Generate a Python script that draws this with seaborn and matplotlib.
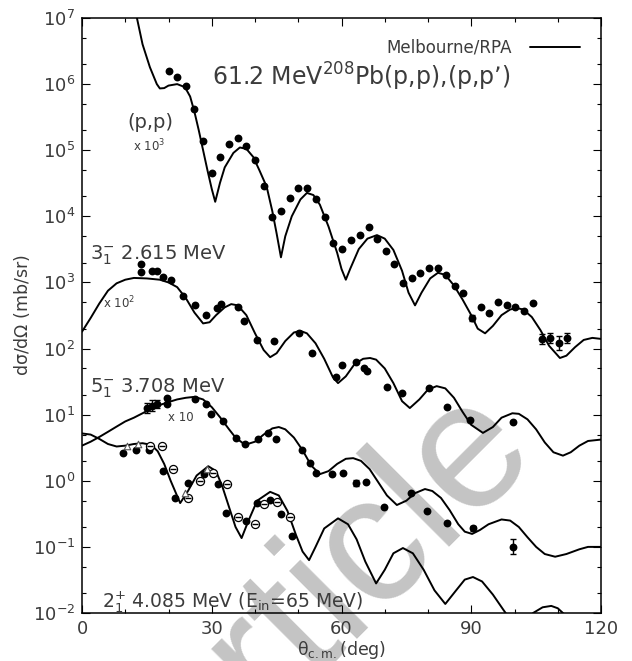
import matplotlib
matplotlib.use('Agg')
import matplotlib.pyplot as plt
import matplotlib.ticker as ticker
import numpy as np
import pandas as pd
import seaborn as sns

sns.set_theme(style='ticks')
plt.rcParams['font.family'] = ['DejaVu Sans']
plt.rcParams['mathtext.default'] = 'regular'

TXT = '#3c3c3c'

# ---- theory curves (Melbourne/RPA) ----
pp_x = [10, 12.7, 14, 15.7, 17.3, 18, 19, 20, 22, 23.8, 25, 26, 27, 28, 29, 30, 30.8,
        31.9, 33, 35, 36.5, 38, 39.6, 41, 42.7, 44, 45, 46, 47, 48.5, 50.5, 52, 53.5,
        55, 57, 59, 60, 61, 62, 64, 66, 68.2, 70, 72, 74, 75.5, 77, 78.5, 80.5, 82.3,
        84, 86, 88, 90, 91.5, 93.2, 95, 97, 99, 100.5, 102, 104, 106, 108, 110.5, 112,
        114, 116, 118, 120]
pp_y = [3e7, 1e7, 4e6, 1.8e6, 1.0e6, 8.6e5, 8.7e5, 9.5e5, 1.0e6, 9e5, 6.5e5, 3.8e5,
        2.0e5, 1.0e5, 5e4, 2.6e4, 1.66e4, 3.2e4, 5.5e4, 9.1e4, 1.1e5, 1.05e5, 7.9e4,
        5e4, 2.8e4, 1.2e4, 5.5e3, 2.4e3, 5e3, 1.0e4, 1.8e4, 2.26e4, 2.1e4, 1.5e4, 7e3,
        2.8e3, 1.6e3, 1.1e3, 1.6e3, 3.2e3, 4.6e3, 5.2e3, 4.6e3, 3.1e3, 1.5e3, 7e2,
        4.5e2, 7e2, 1.15e3, 1.4e3, 1.3e3, 9e2, 5.5e2, 3.2e2, 2e2, 1.7e2, 2.2e2, 3.2e2,
        3.9e2, 4.1e2, 3.9e2, 3e2, 1.9e2, 1.1e2, 72, 78, 1.05e2, 1.35e2, 1.45e2, 1.4e2]

t3_x = [0, 2, 4, 6, 8, 10, 12, 15, 18, 20, 22, 24, 26, 28, 29.5, 31, 33, 34.5, 36, 38,
        40, 42, 43.5, 45, 47, 49, 50.5, 52, 54, 56, 58, 59.2, 61, 63, 65, 66.6, 68, 70,
        72, 74, 75.8, 78, 80, 82, 84, 86, 88, 90, 92.7, 95, 97, 99.5, 101, 103, 105,
        107, 109, 111.2, 113, 115, 117, 120]
t3_y = [1.8e2, 2.9e2, 4.8e2, 7.5e2, 9.7e2, 1.1e3, 1.17e3, 1.15e3, 1.1e3, 1.0e3, 8.5e2,
        5.8e2, 3.5e2, 2.4e2, 2.5e2, 3.2e2, 4.2e2, 4.7e2, 4.5e2, 3.2e2, 1.7e2, 95, 74,
        85, 1.3e2, 1.75e2, 1.85e2, 1.7e2, 1.2e2, 70, 37, 30, 38, 58, 70, 72, 68, 50, 30,
        16, 12.6, 17, 24, 27, 25, 18, 11, 7, 5.3, 6.5, 9, 10.5, 10.3, 8.5, 6, 3.8, 2.7,
        2.4, 2.7, 3.4, 4, 4.2]

t5_x = [0, 2, 4, 6, 8, 10, 12, 14, 16, 18, 20, 22, 24, 26, 28, 30, 32, 34, 35.5, 37.7,
        40, 42, 44, 45.5, 47, 49, 51, 53, 55, 57, 59, 61, 62.7, 64.5, 66.5, 68.5, 70.5,
        72.8, 75, 77, 79.3, 81, 83, 85, 87, 88.5, 90.2, 92, 94, 97, 99, 101, 103, 105,
        107, 109.4, 112, 115, 117, 120]
t5_y = [3.4, 3.9, 4.6, 5.5, 6.6, 7.9, 9.0, 10.5, 12.3, 14, 15.5, 17, 18, 18.6, 17, 13,
        9, 6, 4.5, 3.5, 3.9, 5, 6.2, 6.5, 6, 4.5, 2.9, 1.7, 1.26, 1.4, 1.8, 2.15, 2.2,
        2.0, 1.5, 0.95, 0.6, 0.43, 0.5, 0.65, 0.75, 0.7, 0.55, 0.36, 0.22, 0.17, 0.157,
        0.18, 0.22, 0.26, 0.25, 0.2, 0.14, 0.1, 0.078, 0.071, 0.078, 0.092, 0.1, 0.1]

t2_x = [0, 2, 4, 6, 8, 10, 12, 14, 16, 17.5, 19, 20.5, 22.7, 24.5, 26.5, 29.2, 31, 32.5,
        34, 35.5, 36.9, 38.5, 40.5, 43.5, 45.5, 47.5, 49.5, 51, 52.5, 54, 56, 59.2,
        61.5, 63.5, 65.5, 68, 70, 72, 74.2, 76.5, 79, 81.5, 84, 86.5, 88.5, 90.4, 92.5,
        95, 97.5, 100, 102, 104.3, 106.5, 108.5, 110, 111.2, 113, 116, 120]
t2_y = [5.2, 5.0, 4.3, 3.6, 3.3, 3.4, 3.6, 3.7, 3.5, 2.8, 1.8, 1.0, 0.46, 0.7, 1.2,
        1.66, 1.4, 0.8, 0.4, 0.2, 0.136, 0.25, 0.5, 0.68, 0.6, 0.35, 0.15, 0.085, 0.063,
        0.1, 0.19, 0.27, 0.22, 0.13, 0.06, 0.028, 0.045, 0.08, 0.096, 0.08, 0.045,
        0.022, 0.0137, 0.022, 0.032, 0.035, 0.03, 0.019, 0.011, 0.0065, 0.006, 0.01,
        0.0122, 0.0128, 0.0118, 0.01, 0.007, 0.004, 0.003]

# ---- measured cross sections ----
pp_dx = [20, 22, 24, 26, 28, 30, 32, 34, 36, 38, 40, 42, 44, 46, 48, 50, 52, 54, 56.2,
         58, 60, 62.2, 64.2, 66.3, 68.3, 70.3, 72.2, 74.2, 76.3, 78.2, 80.2, 82.3, 84.2,
         86.3, 88.2, 90.2, 92.3, 94.2, 96.2, 98.2, 100.2, 102.3, 104.3, 106.4, 108.2,
         110.3, 112.1]
pp_dy = [1.58e6, 1.3e6, 9.5e5, 4.2e5, 1.38e5, 4.5e4, 7.9e4, 1.25e5, 1.55e5, 1.15e5,
         7e4, 2.9e4, 9.8e3, 1.2e4, 1.9e4, 2.7e4, 2.7e4, 1.8e4, 9.8e3, 4e3, 3.2e3,
         4.4e3, 5.2e3, 6.9e3, 4.5e3, 3.0e3, 1.9e3, 9.8e2, 1.15e3, 1.4e3, 1.65e3,
         1.65e3, 1.3e3, 8.9e2, 7e2, 2.9e2, 4.3e2, 3.4e2, 5e2, 4.5e2, 4.2e2, 3.7e2,
         4.9e2, 1.4e2, 1.45e2, 1.2e2, 1.45e2]
pp_derr = [1.0] * 35 + [1.12] + [1.0] * 7 + [1.2, 1.2, 1.28, 1.2]

t3_dx = [13.6, 13.6, 16.2, 17.4, 18.8, 20.5, 23.3, 26.1, 28.7, 31.1, 32.1, 36.1, 37.4,
         40.4, 44.4, 50.2, 53.2, 58.7, 60.1, 63.3, 65.2, 65.9, 70.5, 74.0, 80.3, 84.4,
         89.7, 99.7]
t3_dy = [1.9e3, 1.45e3, 1.5e3, 1.5e3, 1.2e3, 1.1e3, 6.3e2, 4.6e2, 3.2e2, 4.1e2, 4.7e2,
         4.3e2, 2.6e2, 1.35e2, 1.3e2, 1.7e2, 85, 37, 56, 63, 51, 46, 26, 21, 25, 13,
         8.3, 7.8]

t5_dx = [15.0, 16.1, 17.3, 19.6, 19.6, 26.1, 28.7, 29.8, 32.6, 35.6, 37.7, 40.7, 43.0,
         44.9, 50.8, 52.7, 54.0, 57.9, 60.4, 63.3, 65.6, 69.8, 76.0, 79.8, 84.4, 90.3,
         99.7]
t5_dy = [12.6, 13.7, 14.5, 17.8, 14.5, 17.3, 14.5, 10.2, 7.9, 4.4, 3.6, 4.3, 5.3, 4.3,
         2.9, 1.86, 1.33, 1.26, 1.3, 0.93, 0.95, 0.40, 0.65, 0.35, 0.23, 0.19, 0.10]
t5_derr = [1.2, 1.2, 1.15] + [1.0] * 16 + [1.12] + [1.0] * 5 + [1.1, 1.3]

t2_fx = [9.5, 12.6, 15.5, 18.7, 21.4, 24.5, 28.2, 31.4, 33.4, 37.9, 40.5, 43.5, 46.0, 48.6]
t2_fy = [2.6, 2.9, 2.9, 1.4, 0.54, 0.92, 1.26, 0.89, 0.32, 0.25, 0.46, 0.52, 0.31, 0.145]
t2_ox = [15.7, 18.6, 21.0, 24.5, 27.3, 30.3, 33.5, 36.1, 39.9, 42.0, 45.1, 48.2]
t2_oy = [3.4, 3.3, 1.52, 0.54, 1.0, 1.3, 0.89, 0.28, 0.225, 0.44, 0.48, 0.285]
t2_tx = [10.5, 13.0, 23.9, 29.0]
t2_ty = [3.4, 3.6, 0.65, 1.5]

fig = plt.figure(figsize=(6.32, 6.61), dpi=100)
ax = fig.add_axes([82 / 632, 1 - 613 / 661, 519 / 632, 595 / 661])
ax.set_yscale('log')

curves = [(pp_x, pp_y), (t3_x, t3_y), (t5_x, t5_y), (t2_x, t2_y)]
for i, (cx, cy) in enumerate(curves):
    df = pd.DataFrame({'x': cx, 'y': cy})
    sns.lineplot(data=df, x='x', y='y', ax=ax, color='black', lw=1.4,
                 estimator=None, label='Melbourne/RPA' if i == 0 else None,
                 legend=False, zorder=3)

# error bars (drawn before markers)
def errbars(xs, ys, fs):
    xs = np.array(xs); ys = np.array(ys); fs = np.array(fs)
    m = fs > 1.0
    ax.errorbar(xs[m], ys[m], yerr=[ys[m] - ys[m] / fs[m], ys[m] * fs[m] - ys[m]],
                fmt='none', ecolor='black', elinewidth=1.0, capsize=2, capthick=1.0,
                zorder=3)

errbars(pp_dx, pp_dy, pp_derr)
errbars(t5_dx, t5_dy, t5_derr)

filled = [(pp_dx, pp_dy), (t3_dx, t3_dy), (t5_dx, t5_dy), (t2_fx, t2_fy)]
for dx, dy in filled:
    sns.scatterplot(x=dx, y=dy, ax=ax, color='black', s=32, marker='o',
                    edgecolor='black', linewidth=0, zorder=4, legend=False)

sns.scatterplot(x=t2_ox, y=t2_oy, ax=ax, color='white', s=34, marker='o',
                edgecolor='black', linewidth=0.9, zorder=5, legend=False)
sns.scatterplot(x=t2_ox, y=t2_oy, ax=ax, color='black', s=14, marker='_',
                linewidth=1.0, zorder=6, legend=False)
sns.scatterplot(x=t2_tx, y=t2_ty, ax=ax, color='white', s=22, marker='^',
                edgecolor='#555555', linewidth=0.8, zorder=5, legend=False)

ax.set_xlim(0, 120)
ax.set_ylim(1e-2, 1e7)
ax.xaxis.set_major_locator(ticker.MultipleLocator(30))
ax.xaxis.set_minor_locator(ticker.MultipleLocator(10))
ax.yaxis.set_major_locator(ticker.LogLocator(base=10, numticks=20))
ax.yaxis.set_minor_locator(ticker.LogLocator(base=10, subs=[2, 5], numticks=20))
ax.yaxis.set_minor_formatter(ticker.NullFormatter())
ax.tick_params(which='both', direction='in', top=True, right=True, colors='black',
               labelcolor=TXT, labelsize=13, width=0.8)
ax.tick_params(which='major', length=6, pad=5)
ax.tick_params(which='minor', length=3)
for sp in ax.spines.values():
    sp.set_color('black')
    sp.set_linewidth(1.1)

ax.set_xlabel(r'$\theta_{c.m.}$(deg)', fontsize=12.5, color=TXT)
ax.set_ylabel(r'd$\sigma$/d$\Omega$ (mb/sr)', fontsize=12.5, color=TXT)
ax.xaxis.set_label_coords(0.5, -0.043)
ax.yaxis.set_label_coords(-0.097, 0.5)

ax.text(30.1, 9.4e5, r'61.2 MeV$^{208}$Pb(p,p),(p,p’)', fontsize=17, color=TXT)
ax.text(10.6, 2.2e5, '(p,p)', fontsize=14, color=TXT)
ax.text(11.8, 9.8e4, r'x 10$^{3}$', fontsize=8.5, color=TXT)
ax.text(1.85, 2.2e3, r'$3^{-}_{1}$ 2.615 MeV', fontsize=14, color=TXT)
ax.text(4.9, 4.1e2, r'x 10$^{2}$', fontsize=8.5, color=TXT)
ax.text(1.85, 22, r'$5^{-}_{1}$ 3.708 MeV', fontsize=14, color=TXT)
ax.text(19.9, 8.0, 'x 10', fontsize=8.5, color=TXT)
ax.text(4.6, 0.0123, r'$2^{+}_{1}$ 4.085 MeV (E$_{in}$=65 MeV)', fontsize=13.5, color=TXT)

leg = ax.legend(loc='upper right', frameon=False, markerfirst=False, fontsize=12,
                handlelength=3.0, borderaxespad=0.85, handletextpad=1.1)
for t in leg.get_texts():
    t.set_color(TXT)

# faint watermark behind the data and the axis labels
ax.text(330 / 632, 62 / 661, 'Article', transform=fig.transFigure, fontsize=130,
        family='Liberation Sans', color='#c4c4c4', rotation=45, ha='center',
        va='center', zorder=0.2, clip_on=False)

fig.savefig('out.png', dpi=100)
